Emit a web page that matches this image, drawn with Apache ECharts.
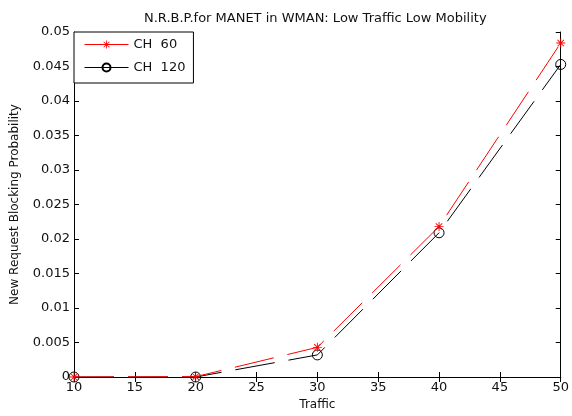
<!DOCTYPE html>
<html>
<head>
<meta charset="utf-8">
<title>N.R.B.P. for MANET in WMAN</title>
<script src="https://cdn.jsdelivr.net/npm/echarts@6/dist/echarts.min.js"></script>
<style>
  html, body { margin: 0; padding: 0; background: #fff; }
  #chart { width: 572px; height: 416px; }
</style>
</head>
<body>
<div id="chart"></div>
<script>
// traffic values on the x axis
var traffic = [10, 20, 30, 40, 50];
// blocking probability per channel count
var ch60 = [0, 0.00005, 0.0043, 0.0218, 0.0484];
var ch120 = [0, 0, 0.0032, 0.0209, 0.0453];
var seriesNames = ['CH  60', 'CH  120'];

// matlab style asterisk marker
var asterisk = 'path://M-5,-0.5L5,-0.5L5,0.5L-5,0.5Z' +
  'M-0.5,-5L0.5,-5L0.5,5L-0.5,5Z' +
  'M-3.9,-3.2L-3.2,-3.9L3.9,3.2L3.2,3.9Z' +
  'M3.2,-3.9L3.9,-3.2L-3.2,3.9L-3.9,3.2Z';

function pairs(xs, ys) {
  return xs.map(function (x, i) { return [x, ys[i]]; });
}

function yLabel(v) {
  return String(parseFloat(v.toFixed(3)));
}

var font = 'DejaVu Sans, Liberation Sans, Arial, sans-serif';
var chart = echarts.init(document.getElementById('chart'));

var option = {
  backgroundColor: '#fff',
  animation: false,
  title: {
    text: 'N.R.B.P.for MANET in WMAN: Low Traffic Low Mobility',
    left: 139,
    top: 7,
    textStyle: { fontFamily: font, fontSize: 13, fontWeight: 'normal', color: '#111' }
  },
  legend: {
    orient: 'vertical',
    left: 74,
    top: 32,
    padding: [6, 8, 9, 10],
    itemGap: 10,
    itemWidth: 44,
    itemHeight: 10,
    borderColor: '#000',
    borderWidth: 1,
    backgroundColor: '#fff',
    lineStyle: { type: 'solid', width: 1 },
    textStyle: { fontFamily: font, fontSize: 13, color: '#111' },
    data: seriesNames
  },
  grid: { left: 74, right: 7, top: 32, bottom: 38 },
  xAxis: [{
    type: 'value',
    min: 10,
    max: 50,
    interval: 5,
    name: 'Traffic',
    nameLocation: 'middle',
    nameGap: 22,
    nameTextStyle: { fontFamily: font, fontSize: 12, color: '#111' },
    axisLine: { lineStyle: { color: '#000', width: 1 } },
    axisTick: { inside: true, length: 5, lineStyle: { color: '#000' } },
    axisLabel: { fontFamily: font, fontSize: 13, color: '#111', margin: 4 },
    splitLine: { show: false }
  }, {
    type: 'value',
    position: 'top',
    min: 10,
    max: 50,
    interval: 5,
    axisLine: { show: true, lineStyle: { color: '#000', width: 1 } },
    axisTick: { inside: true, length: 5, lineStyle: { color: '#000' } },
    axisLabel: { show: false },
    splitLine: { show: false }
  }],
  yAxis: [{
    type: 'value',
    min: 0,
    max: 0.05,
    interval: 0.005,
    name: 'New Request Blocking Probability',
    nameLocation: 'middle',
    nameGap: 53,
    nameTextStyle: { fontFamily: font, fontSize: 12, color: '#111' },
    axisLine: { show: true, lineStyle: { color: '#000', width: 1 } },
    axisTick: { show: true, inside: true, length: 5, lineStyle: { color: '#000' } },
    axisLabel: { fontFamily: font, fontSize: 13, color: '#111', margin: 4, formatter: yLabel },
    splitLine: { show: false }
  }, {
    type: 'value',
    position: 'right',
    min: 0,
    max: 0.05,
    interval: 0.005,
    axisLine: { show: true, lineStyle: { color: '#000', width: 1 } },
    axisTick: { show: true, inside: true, length: 5, lineStyle: { color: '#000' } },
    axisLabel: { show: false },
    splitLine: { show: false }
  }],
  series: [{
    name: seriesNames[0],
    type: 'line',
    data: pairs(traffic, ch60),
    symbol: asterisk,
    symbolSize: 9,
    showAllSymbol: true,
    z: 3,
    itemStyle: { color: '#ff0000' },
    lineStyle: { color: '#ff0000', width: 1, type: [40, 14] }
  }, {
    name: seriesNames[1],
    type: 'line',
    data: pairs(traffic, ch120),
    symbol: 'circle',
    symbolSize: 10,
    showAllSymbol: true,
    z: 2,
    itemStyle: { color: 'rgba(255,255,255,0)', borderColor: '#000', borderWidth: 1 },
    lineStyle: { color: '#000', width: 1, type: [40, 14] }
  }]
};

chart.setOption(option);
</script>
</body>
</html>
